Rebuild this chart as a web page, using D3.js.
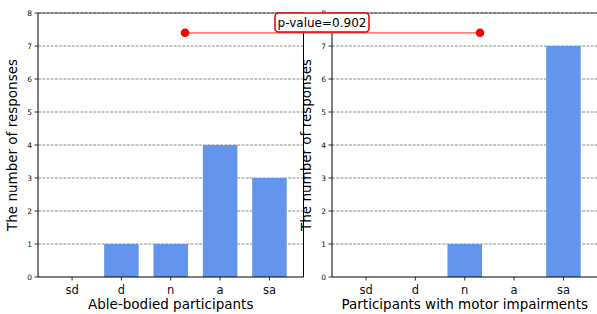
<!DOCTYPE html>
<html><head><meta charset="utf-8">
<script src="https://cdn.jsdelivr.net/npm/d3@7/dist/d3.min.js"></script>
<style>body{margin:0;background:#fff}svg{display:block;font-family:"DejaVu Sans",sans-serif}</style>
</head><body>
<script>
const categories = ["sd","d","n","a","sa"];
const ableBodied = [0,1,1,4,3];
const motorImpaired = [0,0,1,0,7];
const yTicks = [0,1,2,3,4,5,6,7,8];
const pLabel = "p-value=0.902";

const W=597,H=314;
const svg=d3.select("body").append("svg").attr("width",W).attr("height",H);
const yTop=13,yBottom=277;
const y=d3.scaleLinear().domain([0,8]).range([yBottom,yTop]);

function panel(x0,x1,data,xlabel){
  const x=d3.scaleLinear().domain([-0.69,4.69]).range([x0,x1]);
  const g=svg.append("g");
  g.selectAll("line.grid").data(yTicks.slice(1)).join("line")
    .attr("x1",x0).attr("x2",x1).attr("y1",d=>y(d)).attr("y2",d=>y(d))
    .attr("stroke","#6e6e6e").attr("stroke-width",0.8).attr("stroke-dasharray","2.96,1.28");
  const bw=0.7;
  g.selectAll("rect").data(data).join("rect")
    .attr("x",(d,i)=>x(i-bw/2)).attr("width",x(bw)-x(0))
    .attr("y",d=>y(d)).attr("height",d=>y(0)-y(d)).attr("fill","#6495ED");
  g.append("line").attr("x1",x0).attr("x2",x0).attr("y1",yTop).attr("y2",yBottom).attr("stroke","#000").attr("stroke-width",1);
  g.append("line").attr("x1",x1).attr("x2",x1).attr("y1",yTop).attr("y2",yBottom).attr("stroke","#000").attr("stroke-width",1);
  g.append("line").attr("x1",x0).attr("x2",x1).attr("y1",yBottom).attr("y2",yBottom).attr("stroke","#000").attr("stroke-width",1);
  g.append("line").attr("x1",x0).attr("x2",x1).attr("y1",yTop).attr("y2",yTop).attr("stroke","#000").attr("stroke-width",0.6);
  g.append("line").attr("x1",x0).attr("x2",x1).attr("y1",yTop).attr("y2",yTop)
    .attr("stroke","#6e6e6e").attr("stroke-width",0.8).attr("stroke-dasharray","2.96,1.28");
  const yt=g.selectAll("g.yt").data(yTicks).join("g").attr("transform",d=>`translate(${x0},${y(d)})`);
  yt.append("line").attr("x1",-3.5).attr("x2",0).attr("stroke","#000").attr("stroke-width",0.8);
  yt.append("text").attr("x",-6).attr("dy","0.35em").attr("text-anchor","end").attr("font-size",7.5).attr("fill","#111").text(d=>d);
  const xt=g.selectAll("g.xt").data(categories).join("g").attr("transform",(d,i)=>`translate(${x(i)},${yBottom})`);
  xt.append("line").attr("y1",0).attr("y2",3.5).attr("stroke","#000").attr("stroke-width",0.8);
  xt.append("text").attr("y",16.5).attr("text-anchor","middle").attr("font-size",11.5).attr("fill","#111").text(d=>d);
  g.append("text").attr("x",(x0+x1)/2).attr("y",309).attr("text-anchor","middle").attr("font-size",13.5).attr("fill","#000").text(xlabel);
  g.append("text").attr("transform",`translate(${x0-21},${(yTop+yBottom)/2}) rotate(-90)`)
    .attr("text-anchor","middle").attr("font-size",13.5).attr("fill","#000").text("The number of responses");
  return x;
}
panel(38,303.5,ableBodied,"Able-bodied participants");
panel(332,597.5,motorImpaired,"Participants with motor impairments");

const ann=svg.append("g");
const yAnn=y(7.4);
ann.append("line").attr("x1",185).attr("x2",480).attr("y1",yAnn).attr("y2",yAnn).attr("stroke","#ff5050").attr("stroke-width",1.3);
ann.selectAll("circle").data([185,480]).join("circle").attr("cx",d=>d).attr("cy",yAnn).attr("r",4.3).attr("fill","#ff0000");
ann.append("rect").attr("x",275).attr("y",13).attr("width",94).attr("height",19).attr("rx",3.5)
  .attr("fill","#fff").attr("stroke","#e00000").attr("stroke-width",1.5);
ann.append("text").attr("x",322).attr("y",22.5).attr("dy","0.35em").attr("text-anchor","middle").attr("font-size",12).attr("fill","#000").text(pLabel);
</script>
</body></html>
